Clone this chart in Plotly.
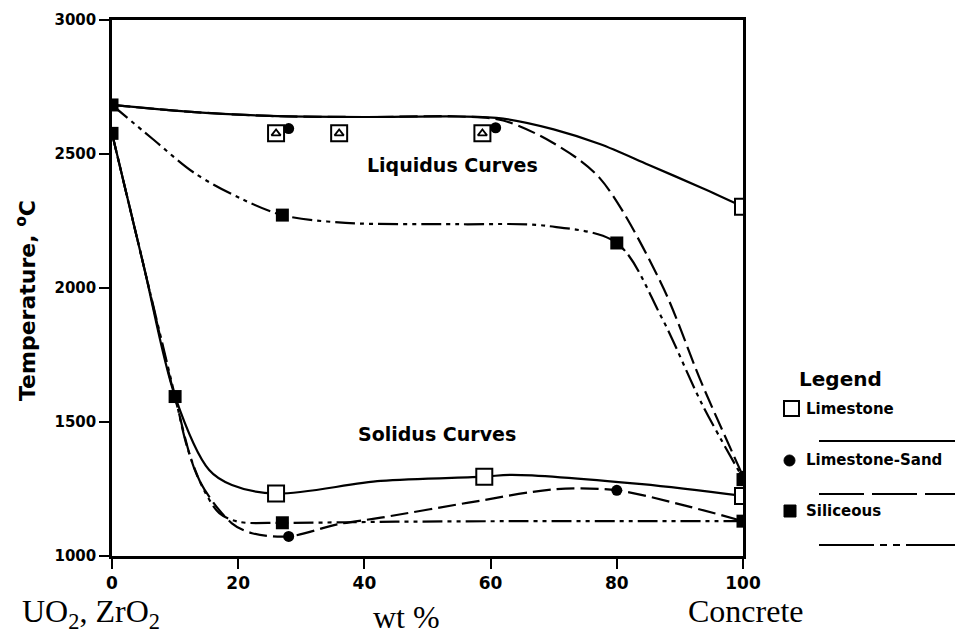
import plotly.graph_objects as go

# ---------------- data ----------------
# Liquidus curves (wt % concrete, temperature degC)
liq_lime_x = [0, 12, 25, 40, 55, 62, 70, 77.3, 85, 93.5, 100]
liq_lime_y = [2683, 2658, 2642, 2638, 2640, 2632, 2592, 2537, 2460, 2373, 2303]

liq_sand_x = [0, 12, 25, 40, 55, 62, 70, 77.3, 87, 93.5, 100]
liq_sand_y = [2683, 2658, 2642, 2638, 2640, 2625, 2540, 2410, 2019, 1642, 1298]

liq_sil_x = [0, 6.5, 13, 20.3, 27, 37, 55, 68.8, 80, 87, 93.5, 100]
liq_sil_y = [2683, 2555, 2430, 2335, 2272, 2243, 2238, 2232, 2168, 1895, 1567, 1290]

# Solidus curves
sol_lime_x = [0, 5, 10, 15.4, 19, 26, 42.6, 59, 63.4, 84, 100]
sol_lime_y = [2577, 2085, 1595, 1321, 1265, 1233, 1280, 1296, 1303, 1268, 1224]

sol_sand_x = [0, 5, 10, 13.8, 19, 22.2, 28, 35.7, 42.6, 56.5, 70.3, 80, 91, 100]
sol_sand_y = [2577, 2085, 1590, 1284, 1122, 1085, 1073, 1118, 1143, 1199, 1249, 1245, 1187, 1130]

sol_sil_x = [0, 5, 10, 12, 14.5, 17, 20, 27, 45, 65, 85, 100]
sol_sil_y = [2577, 2085, 1595, 1400, 1250, 1160, 1128, 1124, 1128, 1130, 1130, 1130]

# Data points (markers)
lime_open_x = [100, 26, 59, 100]
lime_open_y = [2303, 1233, 1296, 1224]
lime_arrow_x = [26, 36, 58.7]          # liquidus points drawn with an up-arrow
lime_arrow_y = [2577, 2577, 2577]

sand_pts_x = [28, 60.8, 100, 28, 80, 100]
sand_pts_y = [2595, 2598, 1298, 1073, 1245, 1130]

sil_pts_x = [0, 0, 10, 27, 80, 100, 27, 100]
sil_pts_y = [2683, 2577, 1595, 2272, 2168, 1285, 1124, 1130]

x_ticks = [0, 20, 40, 60, 80, 100]
y_ticks = [1000, 1500, 2000, 2500, 3000]

legend_names = ["Limestone", "Limestone-Sand", "Siliceous"]

# ---------------- styling ----------------
SANS = "DejaVu Sans"
SERIF = "Liberation Serif"
DASH_SAND = "18px,6px"
DASH_SIL = "20px,5px,4px,5px,4px,5px"
LW = 2.2

fig = go.Figure()


def curve(x, y, dash):
    fig.add_trace(go.Scatter(x=x, y=y, mode="lines",
                             line=dict(color="black", width=LW, dash=dash,
                                       shape="spline", smoothing=0.9),
                             showlegend=False, hoverinfo="skip"))


curve(liq_lime_x, liq_lime_y, "solid")
curve(liq_sand_x, liq_sand_y, DASH_SAND)
curve(liq_sil_x, liq_sil_y, DASH_SIL)
curve(sol_lime_x, sol_lime_y, "solid")
curve(sol_sand_x, sol_sand_y, DASH_SAND)
curve(sol_sil_x, sol_sil_y, DASH_SIL)

fig.add_trace(go.Scatter(x=sil_pts_x, y=sil_pts_y, mode="markers",
                         marker=dict(symbol="square", size=13, color="black"),
                         showlegend=False))
fig.add_trace(go.Scatter(x=sand_pts_x, y=sand_pts_y, mode="markers",
                         marker=dict(symbol="circle", size=11, color="black"),
                         showlegend=False))
fig.add_trace(go.Scatter(x=lime_open_x + lime_arrow_x, y=lime_open_y + lime_arrow_y,
                         mode="markers",
                         marker=dict(symbol="square", size=16, color="white",
                                     line=dict(color="black", width=2)),
                         showlegend=False))
fig.add_trace(go.Scatter(x=lime_arrow_x, y=lime_arrow_y, mode="markers",
                         marker=dict(symbol="triangle-up-open", size=8, color="black",
                                     line=dict(color="black", width=1.8)),
                         showlegend=False))

# ---------------- axes ----------------
fig.update_xaxes(range=[0, 100], tickvals=x_ticks, ticktext=[str(v) for v in x_ticks],
                 showgrid=False, zeroline=False, showline=True, mirror=True,
                 linecolor="black", linewidth=2.5, ticks="outside", ticklen=10,
                 tickwidth=2, tickcolor="black",
                 tickfont=dict(family=SANS, size=17, color="black", weight="bold"))
fig.update_yaxes(range=[1000, 3000], tickvals=y_ticks, ticktext=[str(v) for v in y_ticks],
                 showgrid=False, zeroline=False, showline=True, mirror=True,
                 linecolor="black", linewidth=2.5, ticks="outside", ticklen=10,
                 tickwidth=2, tickcolor="black",
                 tickfont=dict(family=SANS, size=15, color="black", weight="bold"))

L, R, T, B = 112, 215, 20, 82
W, H = 958, 638
pw, ph = W - L - R, H - T - B


def px(xp):
    return (xp - L) / pw


def py(yp):
    return (H - B - yp) / ph


ann = []
bold = dict(family=SANS, color="black", weight="bold")


def note(xp, yp, text, font, xanchor="center", angle=0):
    ann.append(dict(x=px(xp), y=py(yp), xref="paper", yref="paper", text=text,
                    showarrow=False, xanchor=xanchor, yanchor="middle",
                    textangle=angle, font=font))


note(26, 300, "Temperature, <sup>o</sup>C", dict(size=22, **bold), angle=-90)
ann.append(dict(x=54, y=2458, xref="x", yref="y", text="Liquidus Curves", showarrow=False,
                xanchor="center", yanchor="middle", font=dict(size=19, **bold)))
ann.append(dict(x=51.5, y=1457, xref="x", yref="y", text="Solidus Curves", showarrow=False,
                xanchor="center", yanchor="middle", font=dict(size=19, **bold)))
# bottom labels
serif = dict(family=SERIF, size=32, color="black")
note(20, 613, "UO<sub>2</sub>, ZrO<sub>2</sub>", serif, xanchor="left")
note(406, 617, "wt %", serif)
note(686, 611, "Concrete", serif, xanchor="left")
# legend
note(797, 379, "Legend", dict(size=20, **bold), xanchor="left")
for label, yy in zip(legend_names, [409, 460, 511]):
    note(804, yy, label, dict(size=15, **bold), xanchor="left")

shapes = []
shapes.append(dict(type="rect", xref="paper", yref="paper",
                   x0=px(784), x1=px(799), y0=py(416), y1=py(401),
                   line=dict(color="black", width=2), fillcolor="white"))
shapes.append(dict(type="circle", xref="paper", yref="paper",
                   x0=px(784), x1=px(795), y0=py(466), y1=py(455),
                   line=dict(color="black", width=1), fillcolor="black"))
shapes.append(dict(type="rect", xref="paper", yref="paper",
                   x0=px(784), x1=px(796), y0=py(517), y1=py(505),
                   line=dict(color="black", width=1), fillcolor="black"))
for yy, dash in [(441, "solid"), (494, "45px,8px"), (545, "55px,6px,7px,6px,7px,6px")]:
    shapes.append(dict(type="line", xref="paper", yref="paper",
                       x0=px(819), x1=px(955), y0=py(yy), y1=py(yy),
                       line=dict(color="black", width=2.2, dash=dash)))

fig.update_layout(width=W, height=H, margin=dict(l=L, r=R, t=T, b=B, pad=0),
                  paper_bgcolor="white", plot_bgcolor="white",
                  showlegend=False, annotations=ann, shapes=shapes)

fig.write_html("out.html", config={"displayModeBar": False},
               post_script="document.body.style.margin='0';"
                           "document.body.style.overflow='hidden';")
